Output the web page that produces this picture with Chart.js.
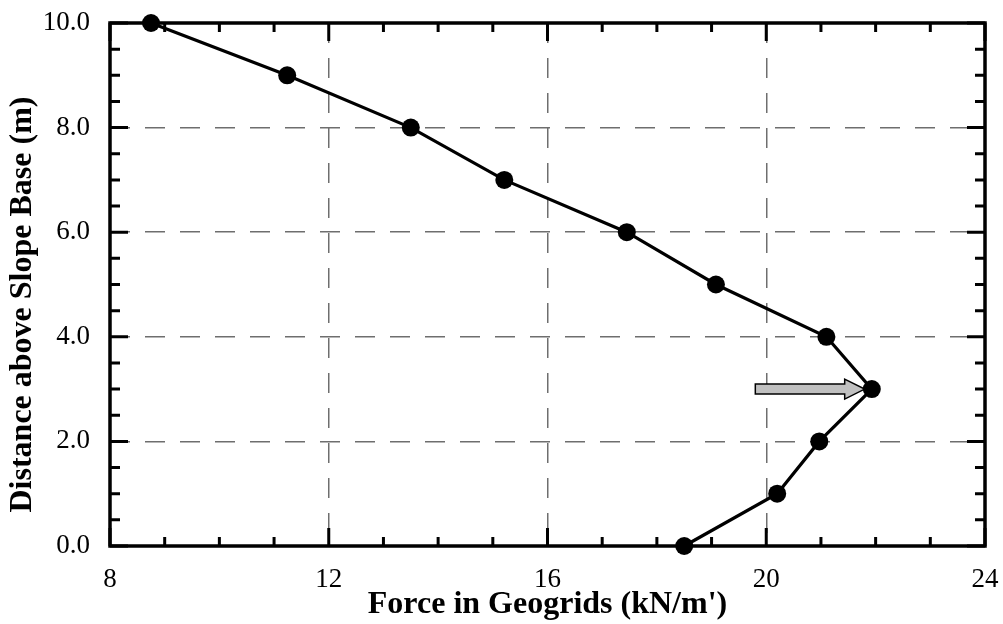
<!DOCTYPE html>
<html>
<head>
<meta charset="utf-8">
<script src="https://cdn.jsdelivr.net/npm/chart.js@4/dist/chart.umd.min.js"></script>
<style>
  html, body { margin:0; padding:0; background:#fff; }
  #wrap { width:1003px; height:624px; }
</style>
</head>
<body>
<div id="wrap"><canvas id="chart"></canvas></div>
<script>
/* ========== DADOS ========== */
const distance = [0, 1, 2, 3, 4, 5, 6, 7, 8, 9, 10];          // m
const force = [18.5, 20.2, 20.97, 21.93, 21.1, 19.08, 17.45, 15.21, 13.5, 11.24, 8.75]; // kN/m'

const xMin = 8, xMax = 24, xMinorStep = 1, xMajorStep = 4;
const yMin = 0, yMax = 10, yMinorStep = 0.5, yMajorStep = 2;

// seta indicando o ponto de força máxima (em unidades dos eixos)
const arrowTail = [19.8, 3];
const arrowTip = [21.8, 3];

/* ========== HELPERS ========== */
const FONT = "'Liberation Serif', 'Times New Roman', serif";

function isMajor(v, step){
  return Math.abs(v / step - Math.round(v / step)) < 1e-6;
}

/* moldura + ticks internos nos 4 lados */
const framePlugin = {
  id: 'frame',
  beforeDatasetsDraw(chart){
    // seta cinza (fica atrás do marcador)
    const {ctx, scales:{x, y}} = chart;
    const x0 = x.getPixelForValue(arrowTail[0]);
    const x1 = x.getPixelForValue(arrowTip[0]);
    const yc = y.getPixelForValue(arrowTail[1]);
    const sh = 5, hh = 10, hl = 20;
    ctx.save();
    ctx.beginPath();
    ctx.moveTo(x0, yc - sh);
    ctx.lineTo(x1 - hl, yc - sh);
    ctx.lineTo(x1 - hl, yc - hh);
    ctx.lineTo(x1, yc);
    ctx.lineTo(x1 - hl, yc + hh);
    ctx.lineTo(x1 - hl, yc + sh);
    ctx.lineTo(x0, yc + sh);
    ctx.closePath();
    ctx.fillStyle = '#c0c0c0';
    ctx.fill();
    ctx.lineWidth = 1.5;
    ctx.strokeStyle = '#000';
    ctx.stroke();
    ctx.restore();
  },
  afterDraw(chart){
    const {ctx, chartArea:a, scales:{x, y}} = chart;
    ctx.save();
    ctx.strokeStyle = '#000';
    ctx.lineWidth = 3.5;
    ctx.lineCap = 'butt';
    ctx.strokeRect(a.left, a.top, a.right - a.left, a.bottom - a.top);

    ctx.lineWidth = 3;
    x.ticks.forEach(t => {
      const px = x.getPixelForValue(t.value);
      const len = isMajor(t.value, xMajorStep) ? 18 : 9;
      ctx.beginPath();
      ctx.moveTo(px, a.bottom); ctx.lineTo(px, a.bottom - len);
      ctx.moveTo(px, a.top); ctx.lineTo(px, a.top + len);
      ctx.stroke();
    });
    y.ticks.forEach(t => {
      const py = y.getPixelForValue(t.value);
      const len = isMajor(t.value, yMajorStep) ? 18 : 10;
      ctx.beginPath();
      ctx.moveTo(a.left, py); ctx.lineTo(a.left + len, py);
      ctx.moveTo(a.right, py); ctx.lineTo(a.right - len, py);
      ctx.stroke();
    });
    ctx.restore();
  }
};

function gridColor(step, min, max){
  return c => {
    const v = c.tick ? c.tick.value : null;
    if(v === null) return 'rgba(0,0,0,0)';
    if(v <= min || v >= max) return 'rgba(0,0,0,0)';
    return isMajor(v, step) ? '#6e6e6e' : 'rgba(0,0,0,0)';
  };
}

/* ========== CHART ========== */
const ctx = document.getElementById('chart').getContext('2d');
new Chart(ctx, {
  type: 'line',
  data: {
    datasets: [{
      data: force.map((f, i) => ({x: f, y: distance[i]})),
      borderColor: '#000',
      backgroundColor: '#000',
      borderWidth: 3.2,
      pointRadius: 9,
      pointBackgroundColor: '#000',
      pointBorderWidth: 0,
      tension: 0,
      clip: false
    }]
  },
  options: {
    responsive: true,
    maintainAspectRatio: false,
    animation: false,
    layout: { padding: { top: 23, right: 18, left: 0, bottom: 0 } },
    plugins: { legend: { display: false }, tooltip: { enabled: false } },
    scales: {
      x: {
        type: 'linear',
        min: xMin, max: xMax,
        afterFit(scale){
          scale.height = 78;
          scale.paddingLeft = 0;
          scale.paddingRight = 0;
        },
        ticks: {
          stepSize: xMinorStep,
          autoSkip: false,
          maxRotation: 0,
          padding: 18,
          color: '#000',
          font: { family: FONT, size: 27 },
          callback: v => isMajor(v, xMajorStep) ? String(v) : ''
        },
        grid: { drawTicks: false, lineWidth: 1.5, color: gridColor(xMajorStep, xMin, xMax) },
        border: { display: false, dash: [20, 15] },
        title: {
          display: true,
          text: "Force in Geogrids (kN/m')",
          color: '#000',
          font: { family: FONT, size: 32, weight: 'bold' },
          padding: { top: 0, bottom: 0 }
        }
      },
      y: {
        type: 'linear',
        min: yMin, max: yMax,
        afterFit(scale){
          scale.width = 110;
          scale.paddingTop = 0;
          scale.paddingBottom = 0;
        },
        ticks: {
          stepSize: yMinorStep,
          autoSkip: false,
          padding: 20,
          color: '#000',
          font: { family: FONT, size: 27 },
          callback: v => isMajor(v, yMajorStep) ? v.toFixed(1) : ''
        },
        grid: { drawTicks: false, lineWidth: 1.5, color: gridColor(yMajorStep, yMin, yMax) },
        border: { display: false, dash: [20, 15] },
        title: {
          display: true,
          text: 'Distance above Slope Base (m)\u2003 ',
          color: '#000',
          font: { family: FONT, size: 32, weight: 'bold' },
          padding: { top: 4, bottom: 0 }
        }
      }
    }
  },
  plugins: [framePlugin]
});
</script>
</body>
</html>
